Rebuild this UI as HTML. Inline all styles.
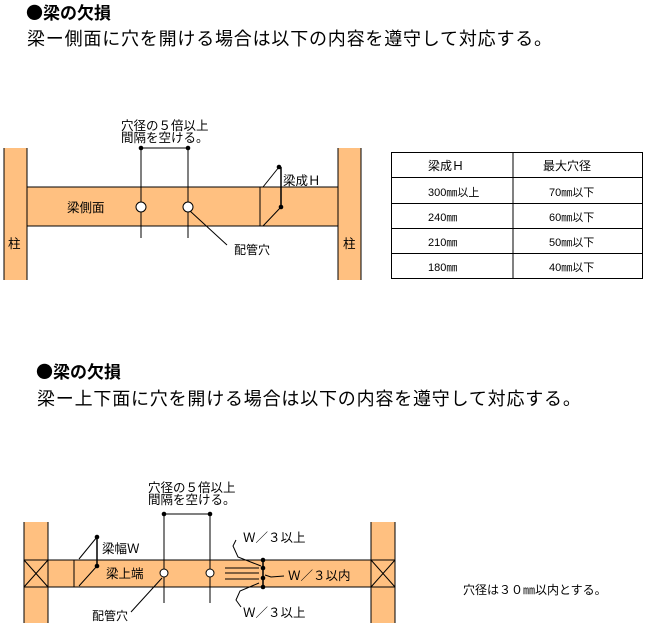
<!DOCTYPE html>
<html><head><meta charset="utf-8"><style>
body{margin:0;background:#fff;}
svg{display:block;font-family:"Liberation Sans","Noto Sans CJK JP",sans-serif;}
.s{font-size:12.5px;fill:#000;}
.t{font-size:12px;fill:#000;}
.b{font-family:"Noto Sans CJK JP",sans-serif;}
</style></head><body>
<svg width="659" height="623" viewBox="0 0 659 623" xmlns="http://www.w3.org/2000/svg">
<text x="26" y="19" font-size="17" font-weight="bold" class="b">●梁の欠損</text>
<text x="27" y="45" font-size="18" letter-spacing="0.8">梁ー側面に穴を開ける場合は以下の内容を遵守して対応する。</text>

<g stroke="#000" stroke-width="1" fill="#FFC080">
<rect x="4" y="148" width="23" height="132" stroke="none"/>
<line x1="4" y1="148" x2="4" y2="280"/><line x1="27" y1="148" x2="27" y2="280"/>
<rect x="338" y="148" width="23" height="132" stroke="none"/>
<line x1="338" y1="148" x2="338" y2="280"/><line x1="361" y1="148" x2="361" y2="280"/>
<rect x="27" y="187" width="311" height="39"/>
</g>
<g stroke="#000" stroke-width="1" fill="none">
<line x1="260" y1="187" x2="260" y2="226"/>
<line x1="263" y1="187" x2="279" y2="167"/>
<line x1="263" y1="226" x2="281" y2="207"/>
<line x1="281" y1="167" x2="281" y2="207" stroke-width="1.5"/>
<line x1="141" y1="148" x2="141" y2="238"/><line x1="188" y1="148" x2="188" y2="238"/>
<line x1="141" y1="148" x2="188" y2="148"/>
<line x1="190" y1="211" x2="227" y2="245"/>
</g>
<circle cx="141" cy="207" r="5" fill="#fff" stroke="#000"/>
<circle cx="188" cy="207" r="5" fill="#fff" stroke="#000"/>
<g fill="#000"><circle cx="141" cy="148" r="2.3"/><circle cx="188" cy="148" r="2.3"/><circle cx="279" cy="167" r="2.3"/><circle cx="281" cy="207" r="2.3"/></g>
<text class="s" x="121" y="130">穴径の５倍以上</text>
<text class="s" x="121" y="142">間隔を空ける。</text>
<text class="s" x="283" y="185">梁成Ｈ</text>
<text class="s" x="67" y="212">梁側面</text>
<text class="t" x="234" y="254">配管穴</text>
<text class="s" x="8" y="248">柱</text>
<text class="s" x="343" y="248">柱</text>

<g stroke="#000" stroke-width="1" fill="none">
<rect x="391.5" y="152.5" width="251" height="126"/>
<line x1="513" y1="152" x2="513" y2="279"/>
<line x1="391" y1="177.5" x2="643" y2="177.5"/>
<line x1="391" y1="203.5" x2="643" y2="203.5"/>
<line x1="391" y1="228.5" x2="643" y2="228.5"/>
<line x1="391" y1="253.5" x2="643" y2="253.5"/>
</g>
<g class="t">
<text x="428" y="170" font-size="12">梁成Ｈ</text><text x="543" y="170" font-size="12">最大穴径</text>
<text x="428" y="196" font-size="11">300㎜以上</text><text x="549" y="196" font-size="11">70㎜以下</text>
<text x="428" y="221" font-size="11">240㎜</text><text x="549" y="221" font-size="11">60㎜以下</text>
<text x="428" y="246" font-size="11">210㎜</text><text x="549" y="246" font-size="11">50㎜以下</text>
<text x="428" y="271" font-size="11">180㎜</text><text x="549" y="271" font-size="11">40㎜以下</text>
</g>

<text x="36" y="378" font-size="17" font-weight="bold" class="b">●梁の欠損</text>
<text x="37" y="405" font-size="18" letter-spacing="0.8">梁ー上下面に穴を開ける場合は以下の内容を遵守して対応する。</text>

<g stroke="#000" stroke-width="1">
<rect x="24" y="522" width="24" height="101" fill="#FFC080" stroke="none"/>
<line x1="24" y1="522" x2="24" y2="623"/><line x1="48" y1="522" x2="48" y2="623"/>
<rect x="371" y="522" width="24" height="101" fill="#FFC080" stroke="none"/>
<line x1="371" y1="522" x2="371" y2="623"/><line x1="395" y1="522" x2="395" y2="623"/>
<rect x="24" y="560" width="371" height="27" fill="#FFC080"/>
<line x1="24" y1="560" x2="48" y2="587"/><line x1="48" y1="560" x2="24" y2="587"/>
<line x1="371" y1="560" x2="395" y2="587"/><line x1="395" y1="560" x2="371" y2="587"/>
<line x1="48" y1="560" x2="48" y2="587"/><line x1="371" y1="560" x2="371" y2="587"/>
</g>
<g stroke="#000" stroke-width="1" fill="none">
<line x1="74" y1="560" x2="74" y2="587"/>
<line x1="79" y1="559" x2="97" y2="537"/>
<line x1="79" y1="586" x2="97" y2="566"/>
<line x1="97" y1="537" x2="97" y2="566" stroke-width="1.5"/>
<line x1="164" y1="514" x2="164" y2="603"/><line x1="210" y1="514" x2="210" y2="603"/>
<line x1="164" y1="514" x2="210" y2="514"/>
<line x1="162" y1="578" x2="131" y2="612"/>
<line x1="225" y1="568" x2="259" y2="568"/>
<line x1="225" y1="573" x2="259" y2="573"/>
<line x1="225" y1="579" x2="259" y2="579"/>
<line x1="263" y1="560" x2="263" y2="587" stroke-width="1.5"/>
<path d="M261 566 L238 557 L233 546 L236 540"/>
<path d="M265 575 L271 577 L284 576"/>
<path d="M259 583 L240 591 L236 600 L241 607"/>
</g>
<circle cx="164" cy="573" r="4" fill="#fff" stroke="#000"/>
<circle cx="210" cy="573" r="4" fill="#fff" stroke="#000"/>
<g fill="#000"><circle cx="164" cy="514" r="2.3"/><circle cx="210" cy="514" r="2.3"/><circle cx="97" cy="537" r="2.3"/><circle cx="97" cy="566" r="2.3"/>
<circle cx="263" cy="560" r="2.3"/><circle cx="263" cy="568" r="2.3"/><circle cx="263" cy="578" r="2.3"/><circle cx="263" cy="587" r="2.3"/></g>
<text class="s" x="148" y="492">穴径の５倍以上</text>
<text class="s" x="148" y="504">間隔を空ける。</text>
<text class="s" x="102" y="553">梁幅Ｗ</text>
<text class="s" x="106" y="578" font-size="13">梁上端</text>
<text class="t" x="92" y="620">配管穴</text>
<text class="s" x="243" y="542">Ｗ／３以上</text>
<text class="s" x="288" y="580">Ｗ／３以内</text>
<text class="s" x="243" y="617">Ｗ／３以上</text>
<text class="t" x="463" y="594">穴径は３０㎜以内とする。</text>
</svg>
</body></html>
